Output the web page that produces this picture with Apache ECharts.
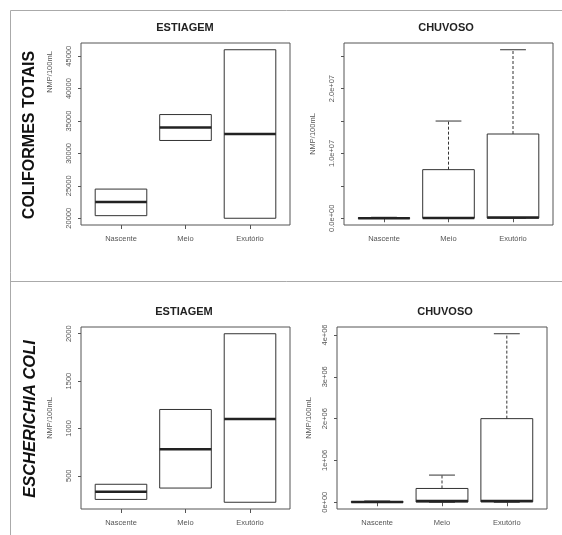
<!DOCTYPE html>
<html><head><meta charset="utf-8">
<script src="https://cdn.jsdelivr.net/npm/echarts@6/dist/echarts.min.js"></script>
<style>html,body{margin:0;padding:0;background:#fff}#c{width:562px;height:535px}</style>
</head><body><div id="c"></div>
<script>
// ---- data ----
const categories = ['Nascente', 'Meio', 'Exutório'];
// each box: [min, Q1, median, Q3, max]
const colEstiagem = [[20400, 20400, 22500, 24500, 24500], [32000, 32000, 34000, 36000, 36000], [20000, 20000, 33000, 46000, 46000]];
const colChuvoso = [[0, 0, 20000, 60000, 150000], [0, 10000, 50000, 7500000, 15000000], [0, 20000, 100000, 13000000, 26000000]];
const ecoEstiagem = [[250, 250, 330, 410, 410], [370, 370, 780, 1200, 1200], [220, 220, 1100, 2000, 2000]];
const ecoChuvoso = [[0, 0, 5000, 15000, 30000], [0, 5000, 30000, 330000, 650000], [0, 10000, 30000, 2000000, 4030000]];
// tick values and labels
const colEstTicks = [20000, 25000, 30000, 35000, 40000, 45000];
const colEstLabelVals = [20000, 25000, 30000, 35000, 40000, 45000];
const colEstLabels = ['20000', '25000', '30000', '35000', '40000', '45000'];
const colChuTicks = [0, 5e6, 1e7, 1.5e7, 2e7, 2.5e7];
const colChuLabelVals = [0, 1e7, 2e7];
const colChuLabels = ['0.0e+00', '1.0e+07', '2.0e+07'];
const ecoEstTicks = [500, 1000, 1500, 2000];
const ecoEstLabelVals = [500, 1000, 1500, 2000];
const ecoEstLabels = ['500', '1000', '1500', '2000'];
const ecoChuTicks = [0, 1e6, 2e6, 3e6, 4e6];
const ecoChuLabelVals = [0, 1e6, 2e6, 3e6, 4e6];
const ecoChuLabels = ['0e+00', '1e+06', '2e+06', '3e+06', '4e+06'];
const panelTitles = ['ESTIAGEM', 'CHUVOSO', 'ESTIAGEM', 'CHUVOSO'];
const rowTitles = ['COLIFORMES TOTAIS', 'ESCHERICHIA COLI'];
const yName = 'NMP/100mL';

// ---- chart ----
const FONT = '"Liberation Sans", Arial, sans-serif';
const AX = '#555';
function rRange(data) {
  const lo = Math.min(...data.map(d => d[0])), hi = Math.max(...data.map(d => d[4]));
  const p = (hi - lo) * 0.04; return [lo - p, hi + p];
}
const panels = [
  {data: colEstiagem, ticks: colEstTicks, lv: colEstLabelVals, lt: colEstLabels, grid: {left: 81, top: 43, width: 209, height: 182}, gap: 27, pad: [0, 0, 0, 124]},
  {data: colChuvoso, ticks: colChuTicks, lv: colChuLabelVals, lt: colChuLabels, grid: {left: 344, top: 43, width: 209, height: 182}, gap: 27, pad: 0},
  {data: ecoEstiagem, ticks: ecoEstTicks, lv: ecoEstLabelVals, lt: ecoEstLabels, grid: {left: 81, top: 327, width: 209, height: 182}, gap: 27, pad: 0},
  {data: ecoChuvoso, ticks: ecoChuTicks, lv: ecoChuLabelVals, lt: ecoChuLabels, grid: {left: 337, top: 327, width: 210, height: 182}, gap: 24, pad: 0}
];
function renderBox(params, api) {
  const x = api.value(0), mn = api.value(1), q1 = api.value(2), md = api.value(3), q3 = api.value(4), mx = api.value(5);
  const hw = 0.4, cw = 0.2;
  const p = (a, b) => api.coord([a, b]);
  const ln = (a, b, st) => ({type: 'line', shape: {x1: a[0], y1: a[1], x2: b[0], y2: b[1]}, style: st});
  const line = {stroke: '#333', lineWidth: 1};
  const ch = [];
  const tl = p(x - hw, q3), br = p(x + hw, q1);
  ch.push({type: 'rect', shape: {x: tl[0], y: tl[1], width: br[0] - tl[0], height: br[1] - tl[1]}, style: {fill: 'none', stroke: '#333', lineWidth: 1}});
  if (mx > q3) {
    ch.push(ln(p(x, q3), p(x, mx), {stroke: '#333', lineWidth: 1, lineDash: [3, 2]}));
    ch.push(ln(p(x - cw, mx), p(x + cw, mx), line));
  }
  if (mn < q1) {
    ch.push(ln(p(x, q1), p(x, mn), {stroke: '#333', lineWidth: 1, lineDash: [3, 2]}));
    ch.push(ln(p(x - cw, mn), p(x + cw, mn), line));
  }
  ch.push(ln(p(x - hw, md), p(x + hw, md), {stroke: '#222', lineWidth: 2.5}));
  return {type: 'group', children: ch};
}
const grids = [], xAxes = [], yAxes = [], series = [];
panels.forEach((pn, i) => {
  grids.push(Object.assign({show: true, borderColor: AX, borderWidth: 1, backgroundColor: 'transparent'}, pn.grid));
  xAxes.push({
    type: 'value', gridIndex: i, min: 0.38, max: 3.62,
    axisLine: {show: false}, splitLine: {show: false},
    axisTick: {show: true, length: 4, customValues: [1, 2, 3], lineStyle: {color: AX}},
    axisLabel: {customValues: [1, 2, 3], margin: 10, fontSize: 7.5, color: AX, fontFamily: FONT,
      formatter: v => categories[Math.round(v) - 1]}
  });
  const r = rRange(pn.data);
  yAxes.push({
    type: 'value', gridIndex: i, min: r[0], max: r[1],
    axisLine: {show: false}, splitLine: {show: false},
    axisTick: {show: true, length: 3, customValues: pn.ticks, lineStyle: {color: AX}},
    axisLabel: {customValues: pn.lv, rotate: 90, margin: 8, fontSize: 7.5, color: AX, fontFamily: FONT,
      formatter: v => { let k = 0, b = Infinity; pn.lv.forEach((t, j) => { const d = Math.abs(t - v); if (d < b) { b = d; k = j; } }); return pn.lt[k]; }},
    name: yName, nameLocation: 'middle', nameRotate: 90, nameGap: pn.gap,
    nameTextStyle: {fontSize: 7.5, color: AX, fontFamily: FONT, padding: pn.pad}
  });
  series.push({
    type: 'custom', xAxisIndex: i, yAxisIndex: i, renderItem: renderBox, clip: false,
    encode: {x: 0, y: [1, 2, 3, 4, 5]},
    data: pn.data.map((d, j) => [j + 1].concat(d))
  });
});
const titlePos = [[185, 28], [446, 28], [184, 312], [445, 312]];
const graphic = [
  {type: 'line', shape: {x1: 10.5, y1: 10.5, x2: 562, y2: 10.5}, style: {stroke: '#aaa', lineWidth: 1}},
  {type: 'line', shape: {x1: 10.5, y1: 10.5, x2: 10.5, y2: 535}, style: {stroke: '#aaa', lineWidth: 1}},
  {type: 'line', shape: {x1: 10.5, y1: 281.5, x2: 562, y2: 281.5}, style: {stroke: '#aaa', lineWidth: 1}}
];
panelTitles.forEach((t, i) => graphic.push({type: 'text', x: titlePos[i][0], y: titlePos[i][1],
  style: {text: t, fill: '#222', font: 'bold 11px ' + FONT, align: 'center', verticalAlign: 'middle'}}));
graphic.push({type: 'text', x: 30, y: 135, rotation: Math.PI / 2,
  style: {text: rowTitles[0], fill: '#111', font: 'bold 16px ' + FONT, align: 'center', verticalAlign: 'middle'}});
graphic.push({type: 'text', x: 30, y: 419, rotation: Math.PI / 2,
  style: {text: rowTitles[1], fill: '#111', font: 'italic bold 16.5px ' + FONT, align: 'center', verticalAlign: 'middle'}});

const chart = echarts.init(document.getElementById('c'), null, {renderer: 'canvas'});
chart.setOption({animation: false, backgroundColor: '#fff', grid: grids, xAxis: xAxes, yAxis: yAxes, series, graphic});
</script></body></html>
